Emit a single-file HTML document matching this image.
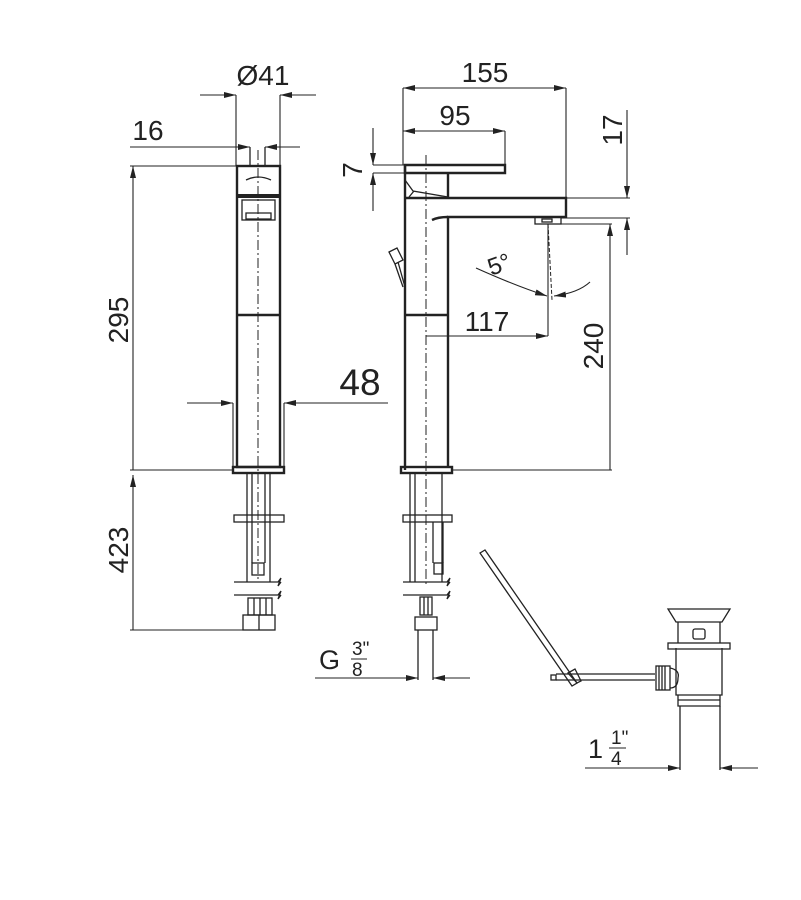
<!DOCTYPE html>
<html><head><meta charset="utf-8"><style>
body{margin:0;background:#fff}
svg{display:block}
text{font-family:"Liberation Sans",sans-serif;fill:#222}
</style></head><body>
<svg width="801" height="900" viewBox="0 0 801 900" xmlns="http://www.w3.org/2000/svg">
<defs>
<marker id="a" viewBox="0 0 12 6" refX="12" refY="3" markerWidth="12" markerHeight="6" orient="auto" markerUnits="userSpaceOnUse"><path d="M0,0L12,3L0,6z" fill="#222"/></marker>
</defs>
<g stroke="#222" fill="none">
<g stroke-width="2.4">
<rect x="237" y="166" width="43" height="301"/>
<line x1="237" y1="196" x2="280" y2="196" stroke-width="4"/>
<line x1="237" y1="315" x2="280" y2="315"/>
<rect x="233" y="467" width="51" height="6"/>
</g>
<g stroke-width="1.3">
<rect x="242" y="200" width="33" height="20"/>
<path d="M246 213h25v6h-25z"/>
<path d="M246 180 q12 -6 25 0"/>
<line x1="250" y1="147" x2="250" y2="166"/><line x1="265" y1="147" x2="265" y2="166"/>
<line x1="247" y1="473" x2="247" y2="582"/><line x1="270" y1="473" x2="270" y2="582"/>
<line x1="252" y1="473" x2="252" y2="563"/><line x1="265" y1="473" x2="265" y2="563"/>
<rect x="234" y="515" width="50" height="7"/>
<rect x="252" y="563" width="12" height="12"/>
<path d="M234 582h44l3 -4l-3 8l3 -4"/><path d="M234 595h44l3 -4l-3 8l3 -4"/>
<rect x="248" y="598" width="24" height="17"/>
<line x1="254" y1="598" x2="254" y2="615"/><line x1="260" y1="598" x2="260" y2="615"/><line x1="266" y1="598" x2="266" y2="615"/>
<rect x="243" y="615" width="32" height="15"/>
<line x1="259" y1="615" x2="259" y2="630"/>
</g>
<line x1="258" y1="150" x2="258" y2="580" stroke-width="1" stroke-dasharray="10,3,2,3"/>
<g stroke-width="1.1">
<line x1="236" y1="95" x2="236" y2="166"/><line x1="280" y1="95" x2="280" y2="166"/>
<line x1="200" y1="95" x2="236" y2="95" marker-end="url(#a)"/><line x1="316" y1="95" x2="280" y2="95" marker-end="url(#a)"/>
<line x1="130" y1="147" x2="250" y2="147" marker-end="url(#a)"/><line x1="300" y1="147" x2="265" y2="147" marker-end="url(#a)"/>
<line x1="130" y1="166" x2="237" y2="166"/><line x1="130" y1="470" x2="233" y2="470"/><line x1="130" y1="630" x2="243" y2="630"/>
<line x1="133" y1="470" x2="133" y2="166" marker-end="url(#a)"/>
<line x1="133" y1="630" x2="133" y2="475" marker-end="url(#a)"/>
<line x1="233" y1="403" x2="233" y2="467"/><line x1="284" y1="403" x2="284" y2="467"/>
<line x1="187" y1="403" x2="233" y2="403" marker-end="url(#a)"/><line x1="388" y1="403" x2="284" y2="403" marker-end="url(#a)"/>
</g>
<g stroke-width="2.4">
<path d="M405 165H505V173H405z"/>
<path d="M405 165V470"/>
<path d="M448 173V198"/>
<path d="M405 198H566V217H448V467"/>
<path d="M432 220q6 -3 16 -3"/>
<line x1="405" y1="315" x2="448" y2="315"/>
<rect x="401" y="467" width="51" height="6"/>
</g>
<g stroke-width="1.3">
<path d="M405 180l8 11 35 6"/><path d="M409 197l5 -6"/>
<rect x="535" y="217" width="26" height="7"/><rect x="542" y="219" width="10" height="3"/>
<path d="M389 252l8 -4 6 12 -8 4z"/><path d="M398 262l7 25M395 264l8 23"/>
<line x1="410" y1="473" x2="410" y2="582"/><line x1="415" y1="473" x2="415" y2="582"/><line x1="442" y1="473" x2="442" y2="582"/>
<line x1="433" y1="522" x2="433" y2="563"/><line x1="443" y1="522" x2="443" y2="563"/>
<rect x="403" y="515" width="49" height="7"/>
<rect x="434" y="563" width="9" height="11"/>
<path d="M403 582h44l3 -4l-3 8l3 -4"/><path d="M403 595h44l3 -4l-3 8l3 -4"/>
<rect x="420" y="597" width="12" height="18"/>
<line x1="424" y1="597" x2="424" y2="615"/><line x1="428" y1="597" x2="428" y2="615"/>
<rect x="415" y="617" width="22" height="13"/>
<line x1="418" y1="630" x2="418" y2="680"/><line x1="433" y1="630" x2="433" y2="680"/>
</g>
<line x1="426" y1="155" x2="426" y2="585" stroke-width="1" stroke-dasharray="10,3,2,3"/>
<line x1="548" y1="224" x2="552" y2="300" stroke-width="1" stroke-dasharray="4,2"/>
<g stroke-width="1.1">
<line x1="403" y1="88" x2="403" y2="165"/><line x1="566" y1="88" x2="566" y2="198"/>
<line x1="485" y1="88" x2="403" y2="88" marker-end="url(#a)"/><line x1="485" y1="88" x2="566" y2="88" marker-end="url(#a)"/>
<line x1="505" y1="131" x2="505" y2="165"/>
<line x1="450" y1="131" x2="403" y2="131" marker-end="url(#a)"/><line x1="450" y1="131" x2="505" y2="131" marker-end="url(#a)"/>
<line x1="373" y1="165" x2="405" y2="165"/><line x1="373" y1="173" x2="405" y2="173"/>
<line x1="373" y1="128" x2="373" y2="165" marker-end="url(#a)"/><line x1="373" y1="211" x2="373" y2="173" marker-end="url(#a)"/>
<line x1="566" y1="198" x2="630" y2="198"/><line x1="561" y1="218" x2="630" y2="218"/>
<line x1="627" y1="110" x2="627" y2="198" marker-end="url(#a)"/><line x1="627" y1="255" x2="627" y2="218" marker-end="url(#a)"/>
<line x1="561" y1="224" x2="612" y2="224"/><line x1="452" y1="470" x2="612" y2="470"/>
<line x1="610" y1="470" x2="610" y2="224" marker-end="url(#a)"/>
<line x1="548" y1="224" x2="548" y2="336"/>
<line x1="426" y1="336" x2="548" y2="336" marker-end="url(#a)"/>
<path d="M476 268q40 18 71 28" marker-end="url(#a)"/>
<path d="M590 282q-12 11 -36 14" marker-end="url(#a)"/>
<line x1="315" y1="678" x2="418" y2="678" marker-end="url(#a)"/><line x1="470" y1="678" x2="433" y2="678" marker-end="url(#a)"/>
</g>
<g stroke-width="1.3">
<path d="M480 553l5 -3 92 133 -5 3z"/>
<rect x="551" y="675" width="5" height="5"/>
<path d="M556 674H655M556 680H655"/>
<path d="M568 673l7 -4 6 12 -4 2z"/>
<rect x="656" y="666" width="14" height="24"/>
<path d="M659 666v24M662 666v24M665 666v24"/>
<path d="M670 668q10 2 8 10q0 10 -8 10"/>
<path d="M676 648V695H722V648"/>
<rect x="668" y="643" width="62" height="6"/>
<path d="M668 609H730L722 622H676z"/>
<path d="M678 622V643M720 622V643"/>
<rect x="693" y="629" width="12" height="10" rx="2"/>
<path d="M678 695V706H720V695"/>
<path d="M678 700H720"/>
<path d="M680 706V770M720 706V770"/>
</g>
<g stroke-width="1.1">
<line x1="585" y1="768" x2="680" y2="768" marker-end="url(#a)"/><line x1="758" y1="768" x2="720" y2="768" marker-end="url(#a)"/>
</g>
</g>
<text x="263" y="85" font-size="28" text-anchor="middle">Ø41</text>
<text x="148" y="140" font-size="28" text-anchor="middle">16</text>
<text x="128" y="320" font-size="28" text-anchor="middle" transform="rotate(-90 128 320)">295</text>
<text x="128" y="550" font-size="28" text-anchor="middle" transform="rotate(-90 128 550)">423</text>
<text x="360" y="395" font-size="37" text-anchor="middle">48</text>
<text x="485" y="82" font-size="28" text-anchor="middle">155</text>
<text x="455" y="125" font-size="28" text-anchor="middle">95</text>
<text x="362" y="170" font-size="28" text-anchor="middle" transform="rotate(-90 362 170)">7</text>
<text x="622" y="130" font-size="28" text-anchor="middle" transform="rotate(-90 622 130)">17</text>
<text x="603" y="346" font-size="28" text-anchor="middle" transform="rotate(-90 603 346)">240</text>
<text x="487" y="331" font-size="28" text-anchor="middle">117</text>
<text x="502" y="272" font-size="24" text-anchor="middle" transform="rotate(-20 502 272)">5°</text>
<text x="319" y="669" font-size="27">G</text>
<text x="352" y="655" font-size="19">3"</text>
<line x1="351" y1="659" x2="367" y2="659" stroke="#222" stroke-width="1"/>
<text x="352" y="676" font-size="19">8</text>
<text x="588" y="758" font-size="27">1</text>
<text x="611" y="744" font-size="19">1"</text>
<line x1="609" y1="748" x2="626" y2="748" stroke="#222" stroke-width="1"/>
<text x="611" y="765" font-size="19">4</text>
</svg>
</body></html>
